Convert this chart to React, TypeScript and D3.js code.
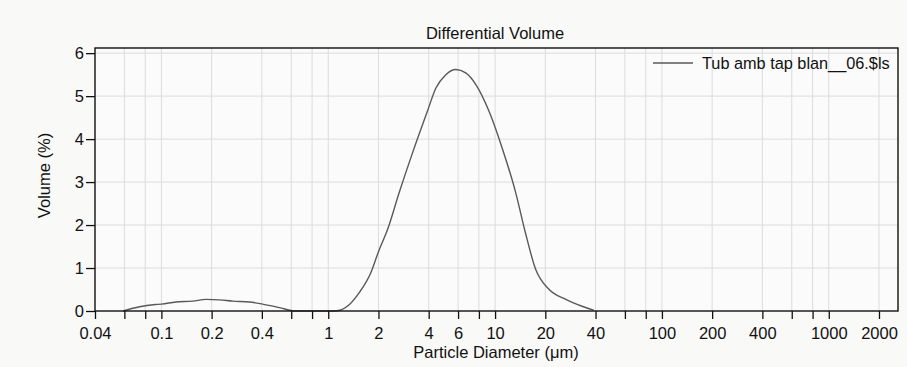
import React, { useEffect, useRef } from 'react'
import * as d3 from 'd3'

// particle diameter (um) and differential volume (%)
const diameters = [0.059, 0.074, 0.092, 0.1, 0.122, 0.154, 0.185, 0.222, 0.268, 0.337, 0.404, 0.509, 0.64,
  1.1, 1.34, 1.53, 1.8, 2.0, 2.27, 2.66, 3.2, 3.93, 4.42, 5.07, 5.81, 6.67, 7.67, 9.2, 11.1, 13.3, 15.2,
  17.5, 21.1, 26.5, 33.2, 39]
const volumes = [0, 0.1, 0.15, 0.16, 0.21, 0.23, 0.27, 0.26, 0.23, 0.21, 0.16, 0.08, 0,
  0, 0.15, 0.42, 0.89, 1.38, 1.9, 2.75, 3.68, 4.65, 5.19, 5.5, 5.62, 5.54, 5.27, 4.65, 3.76, 2.75, 1.82,
  0.97, 0.5, 0.27, 0.11, 0.02]

const xTicks = [0.04, 0.06, 0.08, 0.1, 0.2, 0.4, 0.6, 0.8, 1, 2, 4, 6, 8, 10, 20, 40, 60, 80, 100, 200, 400, 600, 800, 1000, 2000]
const xLabels = [0.04, 0.1, 0.2, 0.4, 1, 2, 4, 6, 10, 20, 40, 100, 200, 400, 1000, 2000]
const yTicks = [0, 1, 2, 3, 4, 5, 6]

const seriesName = 'Tub amb tap blan__06.$ls'
const font = '"Liberation Sans", Arial, sans-serif'

export default function App() {
  const width = 907
  const height = 367
  const margin = { top: 48, right: 9, bottom: 56, left: 95 }
  const xAxisRef = useRef<SVGGElement>(null)
  const yAxisRef = useRef<SVGGElement>(null)

  const x = d3.scaleLog().domain([0.04, 2600]).range([margin.left, width - margin.right])
  const y = d3.scaleLinear().domain([0, 6.12]).range([height - margin.bottom, margin.top])

  const line = d3.line<number>()
    .x((_, i) => x(diameters[i]))
    .y(d => y(d))
    .curve(d3.curveMonotoneX)

  useEffect(() => {
    const xa = d3.select(xAxisRef.current!)
    xa.call(d3.axisBottom(x).tickValues(xTicks).tickSize(8).tickSizeOuter(0)
      .tickFormat(d => (xLabels.includes(+d) ? String(+d) : '')) as any)
    xa.select('.domain').remove()
    xa.selectAll('text').attr('font-size', 16.5).attr('font-family', font).attr('fill', '#111').attr('dy', '1em')
    xa.selectAll('line').attr('stroke', '#111').attr('stroke-width', 1.3)

    const ya = d3.select(yAxisRef.current!)
    ya.call(d3.axisLeft(y).tickValues(yTicks).tickSize(9).tickSizeOuter(0).tickFormat(d3.format('d')) as any)
    ya.select('.domain').remove()
    ya.selectAll('text').attr('font-size', 16.5).attr('font-family', font).attr('fill', '#111').attr('x', -11)
    ya.selectAll('line').attr('stroke', '#111').attr('stroke-width', 1.3)
  }, [])

  const plotBottom = height - margin.bottom
  const plotRight = width - margin.right

  return (
    <svg width={width} height={height} style={{ position: 'absolute', left: 0, top: 0, background: '#f9f9f8' }}>
      <text x={495} y={39} textAnchor="middle" fontSize={16.5} fontFamily={font} fill="#111">Differential Volume</text>
      <rect x={margin.left} y={margin.top} width={plotRight - margin.left} height={plotBottom - margin.top} fill="#fbfbfb" />
      {xTicks.filter(t => t > 0.04).map(t => (
        <line key={'gx' + t} x1={x(t)} x2={x(t)} y1={margin.top} y2={plotBottom} stroke="#dcdcdc" strokeWidth={1} />
      ))}
      {yTicks.filter(t => t > 0).map(t => (
        <line key={'gy' + t} x1={margin.left} x2={plotRight} y1={y(t)} y2={y(t)} stroke="#dcdcdc" strokeWidth={1} />
      ))}
      <path d={line(volumes) || ''} fill="none" stroke="#595959" strokeWidth={1.4} />
      <rect x={margin.left} y={margin.top} width={plotRight - margin.left} height={plotBottom - margin.top}
        fill="none" stroke="#111" strokeWidth={1.4} />
      <g ref={xAxisRef} transform={`translate(0,${plotBottom})`} />
      <g ref={yAxisRef} transform={`translate(${margin.left},0)`} />
      <line x1={653} x2={693} y1={63} y2={63} stroke="#595959" strokeWidth={1.4} />
      <text x={702} y={69} fontSize={16.3} fontFamily={font} fill="#111">{seriesName}</text>
      <text x={496} y={358} textAnchor="middle" fontSize={16.5} fontFamily={font} fill="#111">Particle Diameter (μm)</text>
      <text transform={`translate(50,${(margin.top + plotBottom) / 2 - 4}) rotate(-90)`} textAnchor="middle"
        fontSize={16.5} fontFamily={font} fill="#111">Volume (%)</text>
    </svg>
  )
}
